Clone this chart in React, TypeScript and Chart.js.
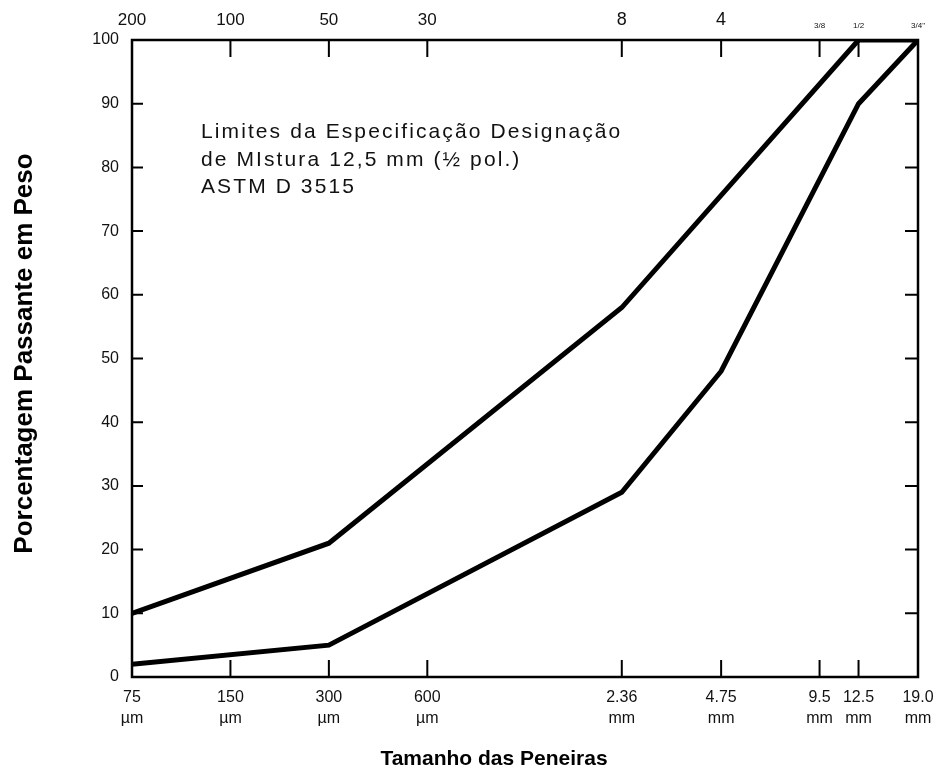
import React, { useEffect, useRef } from "react";
import { Chart, registerables } from "chart.js";

Chart.register(...registerables);

// Sieve sizes in mm (log axis)
const sieveSizes = [0.075, 0.15, 0.3, 0.6, 2.36, 4.75, 9.5, 12.5, 19.0];
const bottomLabels: string[][] = [
  ["75", "µm"],
  ["150", "µm"],
  ["300", "µm"],
  ["600", "µm"],
  ["2.36", "mm"],
  ["4.75", "mm"],
  ["9.5", "mm"],
  ["12.5", "mm"],
  ["19.0", "mm"],
];
const topLabels = ["200", "100", "50", "30", "8", "4", "3/8", "1/2", '3/4"'];
const yTicks = [0, 10, 20, 30, 40, 50, 60, 70, 80, 90, 100];

// Specification limits
const upperSizes = [0.075, 0.3, 2.36, 12.5, 19.0];
const upperPassing = [10, 21, 58, 100, 100];
const lowerSizes = [0.075, 0.3, 2.36, 4.75, 12.5, 19.0];
const lowerPassing = [2, 5, 29, 48, 90, 100];

const noteLines = [
  "Limites da Especificação Designação",
  "de MIstura 12,5 mm (½ pol.)",
  "ASTM D 3515",
];
const xTitle = "Tamanho das Peneiras";
const yTitle = "Porcentagem Passante em Peso";

const FONT = "'Liberation Sans', Arial, Helvetica, sans-serif";

const framePlugin = {
  id: "frame",
  afterDraw(chart: any) {
    const { ctx, chartArea } = chart;
    const { left, right, top, bottom } = chartArea;
    const xs = chart.scales.x;
    const ys = chart.scales.y;
    ctx.save();
    ctx.strokeStyle = "#000";
    ctx.lineWidth = 2.5;
    ctx.strokeRect(left, top, right - left, bottom - top);
    ctx.lineWidth = 2;
    ctx.beginPath();
    yTicks.slice(1, -1).forEach((v) => {
      const py = ys.getPixelForValue(v);
      ctx.moveTo(left, py);
      ctx.lineTo(left + 11, py);
      ctx.moveTo(right, py);
      ctx.lineTo(right - 13, py);
    });
    sieveSizes.slice(1, -1).forEach((s) => {
      const px = xs.getPixelForValue(s);
      ctx.moveTo(px, bottom);
      ctx.lineTo(px, bottom - 17);
      ctx.moveTo(px, top);
      ctx.lineTo(px, top + 17);
    });
    ctx.stroke();

    // note text
    ctx.fillStyle = "#111";
    ctx.font = `21px ${FONT}`;
    (ctx as any).letterSpacing = "2.1px";
    ctx.textAlign = "left";
    ctx.textBaseline = "alphabetic";
    noteLines.forEach((t, i) => {
      ctx.fillText(t, left + 69, top + 98 + i * 27.5);
    });
    (ctx as any).letterSpacing = "0px";

    // x title
    ctx.fillStyle = "#000";
    ctx.font = `bold 21px ${FONT}`;
    ctx.textAlign = "center";
    ctx.fillText(xTitle, left + 362, bottom + 88);

    // y title
    ctx.save();
    ctx.translate(32, (top + bottom) / 2 - 5);
    ctx.rotate(-Math.PI / 2);
    ctx.font = `bold 26px ${FONT}`;
    ctx.textAlign = "center";
    ctx.textBaseline = "alphabetic";
    ctx.fillText(yTitle, 0, 0);
    ctx.restore();
    ctx.restore();
  },
};

export default function App() {
  const ref = useRef<HTMLCanvasElement | null>(null);
  useEffect(() => {
    if (!ref.current) return;
    const setTicks = (scale: any) => {
      scale.ticks = sieveSizes.map((v) => ({ value: v }));
    };
    const chart = new Chart(ref.current, {
      type: "line",
      data: {
        datasets: [
          {
            label: "Limite superior",
            data: upperSizes.map((x, i) => ({ x, y: upperPassing[i] })),
            borderColor: "#000",
            borderWidth: 5,
            pointRadius: 0,
            tension: 0,
            fill: false,
          },
          {
            label: "Limite inferior",
            data: lowerSizes.map((x, i) => ({ x, y: lowerPassing[i] })),
            borderColor: "#000",
            borderWidth: 5,
            pointRadius: 0,
            tension: 0,
            fill: false,
          },
        ],
      },
      options: {
        responsive: false,
        animation: false,
        layout: { padding: { right: 31, top: 0, left: 0, bottom: 0 } },
        plugins: { legend: { display: false }, tooltip: { enabled: false } },
        scales: {
          x: {
            type: "logarithmic",
            position: "bottom",
            min: 0.075,
            max: 19,
            afterBuildTicks: setTicks,
            afterFit: (s: any) => {
              s.height = 93;
            },
            grid: { display: false, drawTicks: false },
            border: { display: false },
            ticks: {
              autoSkip: false,
              maxRotation: 0,
              minRotation: 0,
              padding: 10,
              color: "#111",
              font: { family: FONT, size: 16, lineHeight: 1.3 },
              callback: (_v: any, i: number) => bottomLabels[i],
            },
          },
          x2: {
            type: "logarithmic",
            position: "top",
            min: 0.075,
            max: 19,
            afterBuildTicks: setTicks,
            afterFit: (s: any) => {
              s.height = 40;
            },
            grid: { display: false, drawTicks: false },
            border: { display: false },
            ticks: {
              autoSkip: false,
              maxRotation: 0,
              minRotation: 0,
              padding: 9,
              color: "#111",
              font: (c: any) => ({
                family: FONT,
                size: c.index >= 6 ? 8 : c.index >= 4 ? 18 : 17,
              }),
              callback: (_v: any, i: number) => topLabels[i],
            },
          },
          y: {
            type: "linear",
            min: 0,
            max: 100,
            afterBuildTicks: (s: any) => {
              s.ticks = yTicks.map((v) => ({ value: v }));
            },
            afterFit: (s: any) => {
              s.width = 132;
            },
            grid: { display: false, drawTicks: false },
            border: { display: false },
            ticks: {
              padding: 13,
              color: "#111",
              font: { family: FONT, size: 16 },
            },
          },
        },
      },
      plugins: [framePlugin],
    } as any);
    return () => chart.destroy();
  }, []);
  return (
    <div style={{ position: "absolute", left: 0, top: 0, width: 949, height: 770, background: "#fff" }}>
      <canvas ref={ref} width={949} height={770} style={{ display: "block" }} />
    </div>
  );
}
